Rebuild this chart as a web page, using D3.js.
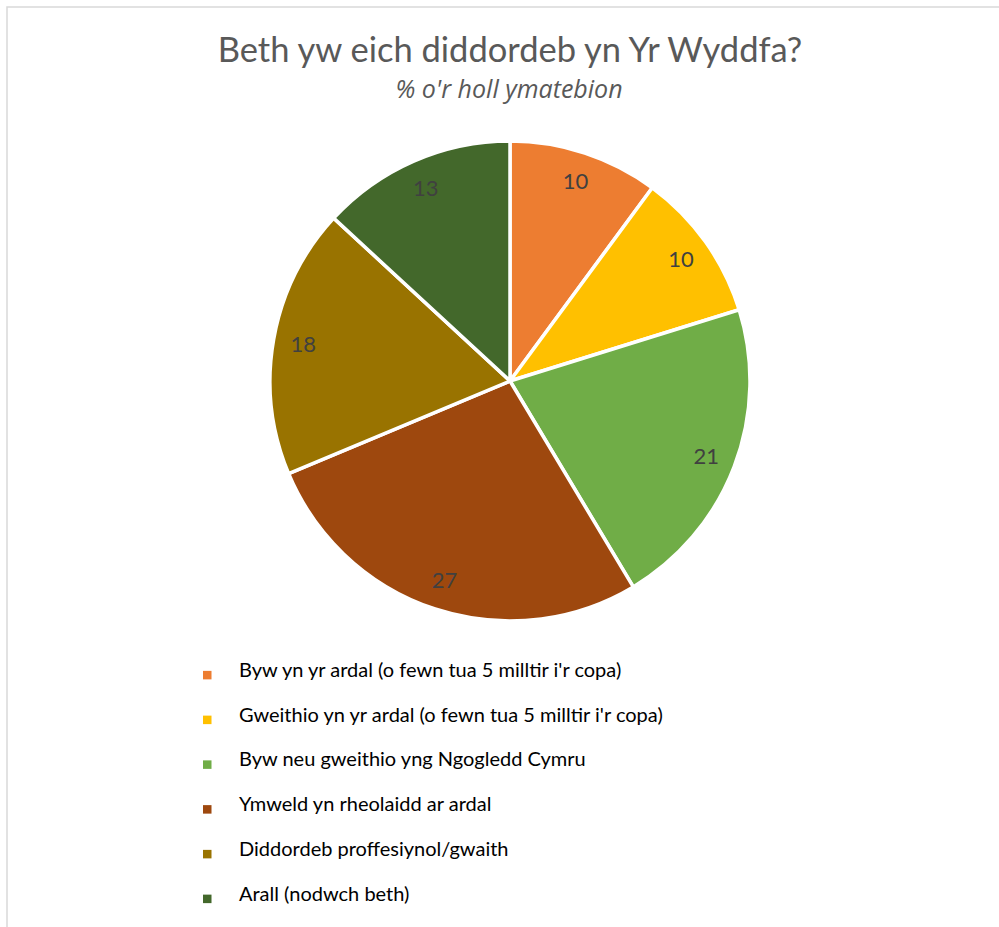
<!DOCTYPE html>
<html>
<head>
<meta charset="utf-8">
<script src="https://cdn.jsdelivr.net/npm/d3@7"></script>
<style>
  html, body { margin: 0; padding: 0; background: #fff; }
  svg { display: block; font-family: Lato, "Open Sans", sans-serif; }
</style>
</head>
<body>
<svg id="chart" width="999" height="927"></svg>
<script>
// Survey categories, their shares (%) and slice colours
const categories = [
  "Byw yn yr ardal (o fewn tua 5 milltir i'r copa)",
  "Gweithio yn yr ardal (o fewn tua 5 milltir i'r copa)",
  "Byw neu gweithio yng Ngogledd Cymru",
  "Ymweld yn rheolaidd ar ardal",
  "Diddordeb proffesiynol/gwaith",
  "Arall (nodwch beth)"
];
const values = [10, 10, 21, 27, 18, 13];
const colors = ["#ED7D31", "#FFC000", "#70AD47", "#9E480E", "#997300", "#43682B"];
const title = "Beth yw eich diddordeb yn Yr Wyddfa?";
const subtitle = "% o'r holl ymatebion";

const svg = d3.select("#chart");

// Chart area frame (runs off the right and bottom edges)
svg.append("rect")
  .attr("x", 7).attr("y", 7)
  .attr("width", 1100).attr("height", 1100)
  .attr("fill", "none")
  .attr("stroke", "#d9d9d9")
  .attr("stroke-width", 1.5);

// Titles
svg.append("text")
  .attr("x", 510).attr("y", 62)
  .attr("text-anchor", "middle")
  .attr("fill", "#595959")
  .attr("font-size", 34.5)
  .text(title);

svg.append("text")
  .attr("x", 509).attr("y", 98)
  .attr("text-anchor", "middle")
  .attr("fill", "#595959")
  .attr("font-family", "'Open Sans', sans-serif")
  .attr("font-size", 25)
  .attr("font-style", "italic")
  .text(subtitle);

// Pie
const cx = 510, cy = 381, radius = 240;
const data = categories.map((c, i) => ({ name: c, value: values[i], color: colors[i] }));
const pie = d3.pie().value(d => d.value).sort(null);
const arcs = pie(data);
const arc = d3.arc().innerRadius(0).outerRadius(radius);
const labelArc = d3.arc().innerRadius(radius * 0.875).outerRadius(radius * 0.875);

const g = svg.append("g").attr("transform", `translate(${cx},${cy})`);

g.selectAll("path.slice")
  .data(arcs)
  .join("path")
  .attr("class", "slice")
  .attr("d", arc)
  .attr("fill", d => d.data.color)
  .attr("stroke", "#fff")
  .attr("stroke-width", 3.5)
  .attr("stroke-linejoin", "round");

g.selectAll("text.value")
  .data(arcs)
  .join("text")
  .attr("class", "value")
  .attr("transform", d => `translate(${labelArc.centroid(d)})`)
  .attr("text-anchor", "middle")
  .attr("dy", "0.35em")
  .attr("fill", "#404040")
  .attr("font-size", 22)
  .text(d => d.data.value);

// Legend
const legendY = d3.scaleBand()
  .domain(categories)
  .range([652.5, 921]);

const legend = svg.append("g");
const rows = legend.selectAll("g.row")
  .data(data)
  .join("g")
  .attr("class", "row")
  .attr("transform", d => `translate(0,${legendY(d.name) + legendY.bandwidth() / 2})`);

rows.append("rect")
  .attr("x", 203).attr("y", -4)
  .attr("width", 8.5).attr("height", 8.5)
  .attr("fill", d => d.color);

rows.append("text")
  .attr("x", 239).attr("y", 0)
  .attr("dy", "0.1em")
  .attr("fill", "#000")
  .attr("font-size", 20)
  .text(d => d.name);
</script>
</body>
</html>
